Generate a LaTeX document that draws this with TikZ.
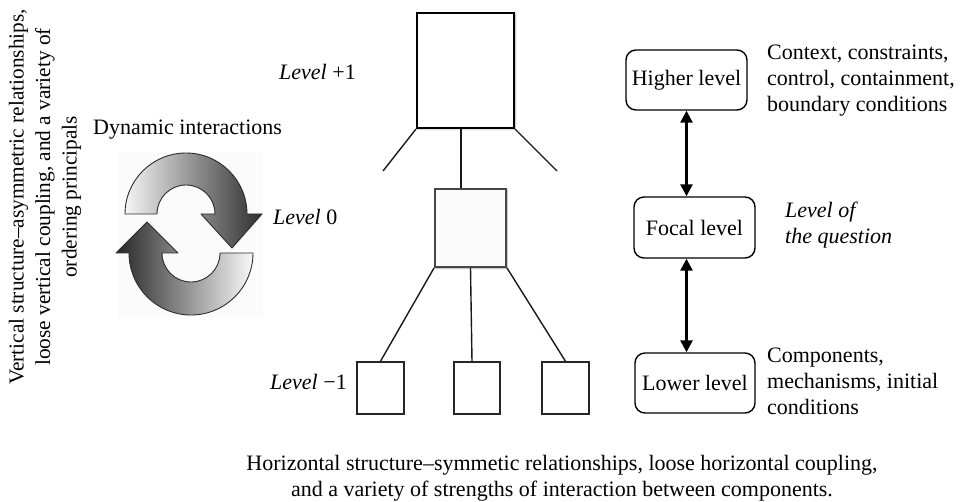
\documentclass[tikz,border=0pt]{standalone}
\usepackage{fontspec}
\setmainfont{Liberation Serif}
\usetikzlibrary{arrows.meta,calc,shadows.blur}

\tikzset{
  txt/.style={inner sep=0pt, font=\fontsize{22}{26}\selectfont},
  bigbox/.style={draw=black, line width=2pt, fill=white,
    blur shadow={shadow xshift=1pt, shadow yshift=-1pt, shadow blur steps=6, shadow opacity=35}},
  midbox/.style={draw=gray!55!black, line width=2pt, fill=gray!3,
    blur shadow={shadow xshift=1pt, shadow yshift=-1pt, shadow blur steps=6, shadow opacity=35}},
  smallbox/.style={draw=black!85, line width=1.5pt, fill=white},
  levelbox/.style={draw=black, line width=1.4pt, rounded corners=10pt, fill=white,
    inner sep=0pt, font=\fontsize{22}{26}\selectfont},
  link/.style={draw=black!90, line width=1.4pt},
  twoway/.style={line width=2.6pt, {Triangle[length=12pt,width=12pt]}-{Triangle[length=12pt,width=12pt]}},
  cyc/.style={draw=gray!35!black, line width=0.9pt, line join=round}
}

\begin{document}
\begin{tikzpicture}[x=1pt,y=-1pt]
\useasboundingbox (0,0) rectangle (964,502);

% left caption, set vertically
\node[inner sep=0pt, font=\fontsize{21.3}{26.5}\selectfont, rotate=90, align=center] (vcap) at (45,197)
  {Vertical structure–asymmetric relationships,\\
   loose vertical coupling, and a variety of\\
   ordering principals};

% cycle icon
\node[txt, anchor=west] (dyn) at (93,130) {Dynamic interactions};
\fill[gray!3] (118,152) rectangle (263,317);
\path[cyc, left color=gray!8, right color=black!82]
  (125,214) arc[start angle=180, end angle=360, radius=61]
  -- (262,214) -- (232,248) -- (201,214) -- (215,214)
  arc[start angle=360, end angle=180, radius=29] -- cycle;
\path[cyc, left color=black!85, right color=gray!5]
  (253,253) arc[start angle=0, end angle=180, radius=62]
  -- (116,253) -- (147,222) -- (178,253) -- (162,253)
  arc[start angle=180, end angle=0, radius=29] -- cycle;

% hierarchy of boxes
\node[bigbox, minimum width=97pt, minimum height=115pt, inner sep=0pt] (top) at (465.5,70.5) {};
\node[midbox, minimum width=71pt, minimum height=78pt, inner sep=0pt] (mid) at (470.5,228) {};
\node[smallbox, minimum width=47pt, minimum height=52pt, inner sep=0pt] (b1) at (380.5,388) {};
\node[smallbox, minimum width=46pt, minimum height=52pt, inner sep=0pt] (b2) at (477,388) {};
\node[smallbox, minimum width=47pt, minimum height=52pt, inner sep=0pt] (b3) at (565.5,388) {};

\coordinate (topL) at (383,171);
\coordinate (topR) at (557,171);
\draw[link] (top.south west) -- (topL);
\draw[link] (top.south east) -- (topR);
\draw[link] ($(top.south)+(-4.5,0)$) -- ($(mid.north)+(-9.5,0)$);
\draw[link] (mid.south west) -- (b1.north);
\draw[link] (mid.south) -- ($(b2.north)+(-5,0)$);
\draw[link] (mid.south east) -- (b3.north);

\node[txt, anchor=west] (lp1) at (279,72) {\textit{Level} +1};
\node[txt, anchor=west] (l0) at (273,217) {\textit{Level} 0};
\node[txt, anchor=west] (lm1) at (270,382) {\textit{Level} −1};

% levels on the right
\node[levelbox, minimum width=121pt, minimum height=60pt] (hi) at (686.5,80) {Higher level};
\node[levelbox, minimum width=121pt, minimum height=61pt] (foc) at (694.5,227.5) {Focal level};
\node[levelbox, minimum width=120pt, minimum height=60pt] (lo) at (695,383) {Lower level};

\draw[twoway] (hi.south) -- (hi.south |- foc.north);
\draw[twoway] (hi.south |- foc.south) -- (hi.south |- lo.north);

\node[txt, anchor=west, align=left] (ctx) at (767,81)
  {Context, constraints,\\control, containment,\\boundary conditions};
\node[txt, anchor=west, align=left, font=\fontsize{22}{26}\selectfont\itshape] (q) at (785,225)
  {Level of\\the question};
\node[txt, anchor=west, align=left] (comp) at (767,381)
  {Components,\\mechanisms, initial\\conditions};

% bottom caption
\node[txt, align=center] (hcap) at (562,478)
  {Horizontal structure–symmetic relationships, loose horizontal coupling,\\
   and a variety of strengths of interaction between components.};
\end{tikzpicture}
\end{document}
